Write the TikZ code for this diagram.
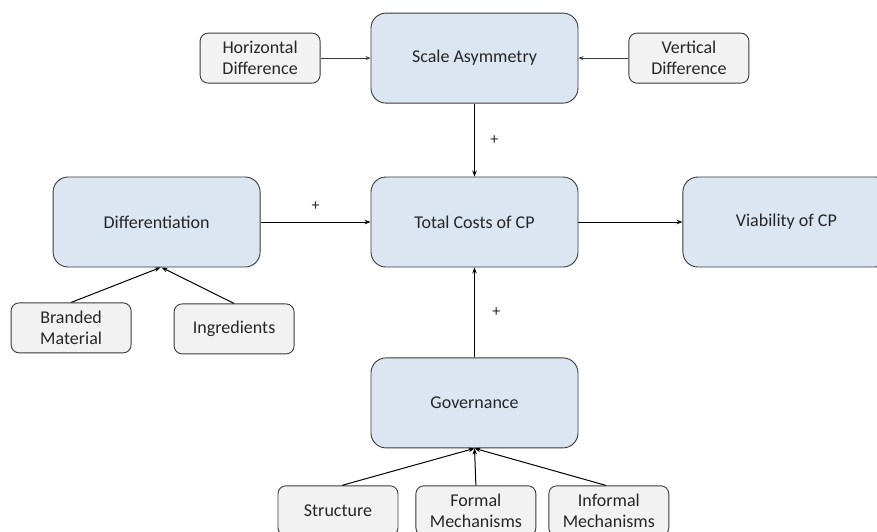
\documentclass[tikz,border=0pt]{standalone}
\usepackage{fontspec}
\setmainfont{Carlito}
\usepackage{tikz}
\usetikzlibrary{arrows.meta, positioning}
\definecolor{boxblue}{HTML}{DCE6F2}
\definecolor{boxgray}{HTML}{F2F2F2}
\definecolor{edgegray}{HTML}{3A3A3A}
\tikzstyle{mainbox} = [rectangle, rounded corners=15pt,
minimum width=207pt,
minimum height=90pt,
text centered,
fill=boxblue,
draw=edgegray, line width=0.9pt,
font=\fontsize{18}{21}\selectfont]
\tikzstyle{factor} = [rectangle, rounded corners=8pt,
minimum width=120pt,
minimum height=50pt,
text width=112pt,
align=center,
fill=boxgray,
draw=edgegray, line width=0.9pt,
font=\fontsize{18}{21}\selectfont]
\tikzstyle{sign} = [font=\fontsize{16}{18}\selectfont]
\tikzstyle{arrow} = [line width=1pt, -{Stealth[length=6pt,width=4.5pt]}]
\tikzstyle{thinarrow} = [line width=0.7pt, draw=edgegray, -{Stealth[length=5pt,width=4pt]}]

\begin{document}
\begin{tikzpicture}[node distance=50pt, text=black!85]
        \useasboundingbox (0pt,0pt) rectangle (877pt,-531pt);

        % --- Nodes ---
        \node (total) [mainbox] at (474.5pt,-222pt) {Total Costs of CP};
        \node (scale) [mainbox, above=73pt of total] {Scale Asymmetry};
        \node (gov) [mainbox, below=90pt of total] {Governance};
        \node (viab) [mainbox, right=104pt of total] {Viability of CP};
        \node (diff) [mainbox, left=110pt of total] {Differentiation};

        \node (horiz) [factor, left=50pt of scale] {Horizontal\\Difference};
        \node (vert) [factor, right=50pt of scale] {Vertical\\Difference};

        \node (branded) [factor, below=35pt of diff, xshift=-85.5pt] {Branded\\Material};
        \node (ingr) [factor, below=36pt of diff, xshift=77.5pt] {Ingredients};

        \node (struct) [factor, below=37pt of gov, xshift=-136.5pt] {Structure};
        \node (formal) [factor, right=17pt of struct] {Formal\\Mechanisms};
        \node (informal) [factor, right=12pt of formal] {Informal\\Mechanisms};

        % --- Connections ---
        \draw [thinarrow] (horiz) -- (scale);
        \draw [thinarrow] (vert) -- (scale);

        \draw [arrow] (scale) -- node[sign, midway, right=12pt] {+} (total);
        \draw [arrow] (diff) -- node[sign, midway, above=8pt] {+} (total);
        \draw [arrow] (gov) -- node[sign, midway, right=14pt] {+} (total);
        \draw [arrow] (total) -- (viab);

        \draw [arrow] (branded.north) -- ([xshift=4pt]diff.south);
        \draw [arrow] (ingr.north) -- ([xshift=5pt]diff.south);

        \draw [arrow] ([xshift=4pt]struct.north) -- (gov.south);
        \draw [arrow] (formal.north) -- (gov.south);
        \draw [arrow] ([xshift=-3pt]informal.north) -- (gov.south);

    \end{tikzpicture}
\end{document}
